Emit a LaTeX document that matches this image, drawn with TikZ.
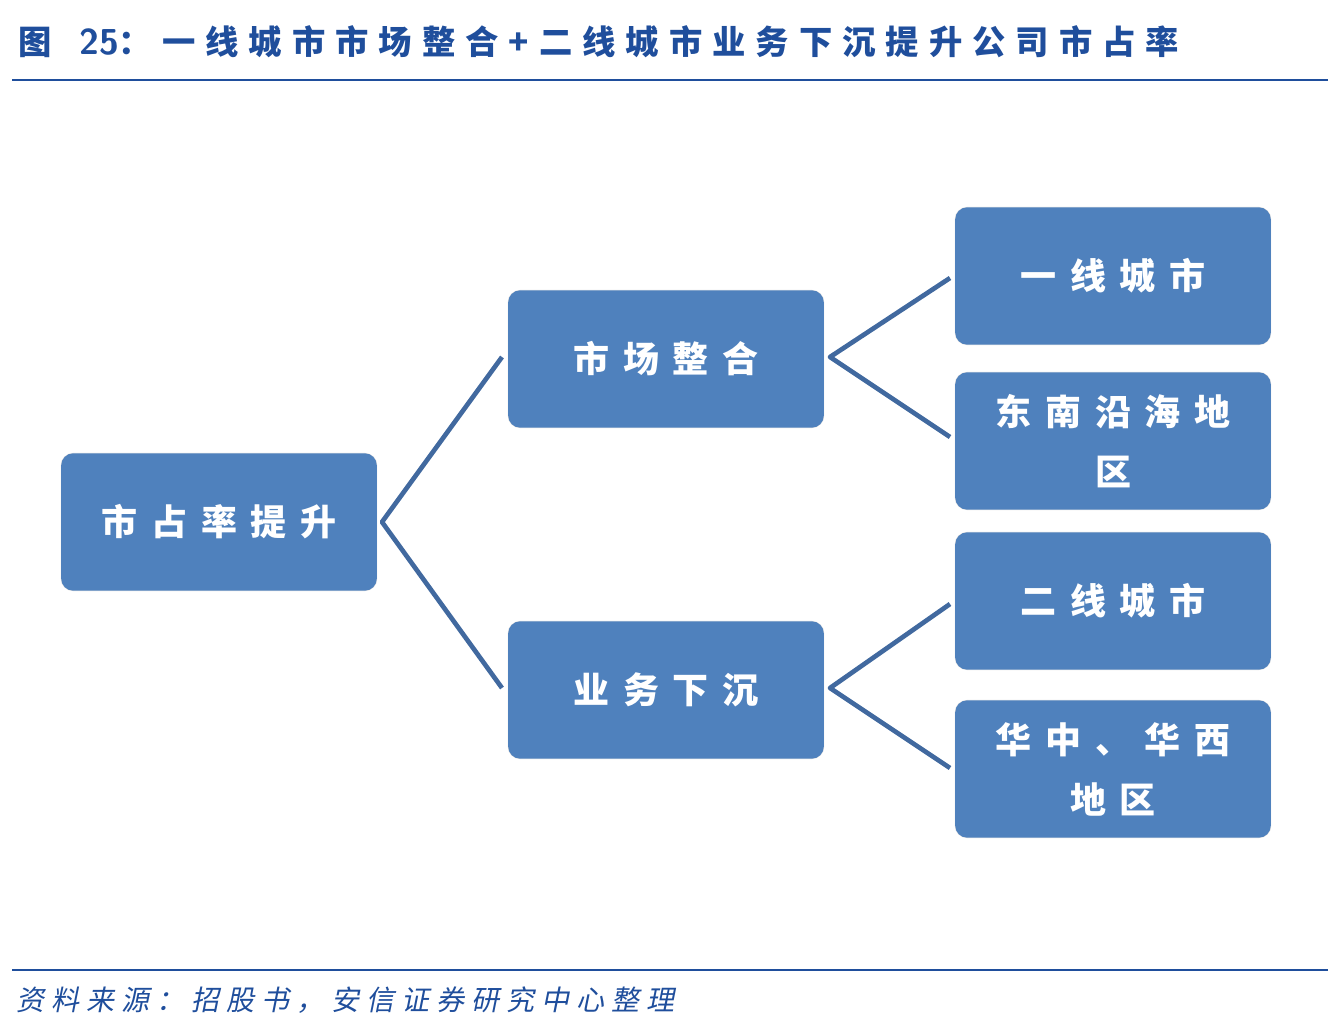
\documentclass[tikz,border=0pt]{standalone}
\usepackage{fontspec}
\setmainfont{Liberation Sans}
\newfontfamily\cjkt[LetterSpace=30]{Noto Sans CJK SC}
\newfontfamily\cjkb[LetterSpace=38]{Noto Sans CJK SC}
\newfontfamily\cjkf[LetterSpace=25]{Noto Sans CJK SC}
\definecolor{boxblue}{HTML}{4F81BD}
\definecolor{lineblue}{HTML}{41699F}
\definecolor{titleblue}{HTML}{1F4E9C}
\begin{document}
\begin{tikzpicture}[x=0.75pt,y=-0.75pt,
  bx/.style={fill=boxblue,rounded corners=9pt,minimum width=234pt,minimum height=103pt,
    text width=230pt,align=center,text=white,font=\cjkb\fontsize{27}{45}\selectfont\bfseries,
    preaction={draw=black!15,line width=0.6pt,rounded corners=11pt}},
  conn/.style={draw=lineblue,line width=3.5pt}]
\useasboundingbox (0,0) rectangle (1340,1022);
\node[anchor=west,inner sep=0pt,text=titleblue,font=\cjkt\fontsize{25}{28}\selectfont\bfseries] (title) at (18,42)
  {图 \textsf{\bfseries\fontsize{27}{28}\selectfont 25}：一线城市市场整合+二线城市业务下沉提升公司市占率};
\draw[titleblue,line width=2.2pt] (12,80) -- (1328,80);
\draw[titleblue,line width=1.5pt] (12,970) -- (1328,970);
\node[anchor=west,inner sep=0pt,text=titleblue,font=\cjkf\fontsize{21}{22}\selectfont,xslant=0.2] (src) at (18,1000)
  {资料来源：招股书，安信证券研究中心整理};
\node[bx] (root) at (219,522) {市占率提升};
\node[bx] (m1) at (666,359) {市场整合};
\node[bx] (m2) at (666,690) {业务下沉};
\node[bx] (r1) at (1113,276) {一线城市};
\node[bx] (r2) at (1113,441) {东南沿海地\\区};
\node[bx] (r3) at (1113,601) {二线城市};
\node[bx] (r4) at (1113,769) {华中、华西\\地区};
\coordinate (a1) at (502,357); \coordinate (a2) at (502,688);
\coordinate (b1) at (950,278); \coordinate (b2) at (950,437);
\coordinate (b3) at (950,604); \coordinate (b4) at (950,768);
\coordinate (rj) at (382,522); \coordinate (mj1) at (830,357); \coordinate (mj2) at (830,688);
\draw[conn,line join=round] (a1) -- (rj) -- (a2);
\draw[conn,line join=round] (b1) -- (mj1) -- (b2);
\draw[conn,line join=round] (b3) -- (mj2) -- (b4);
\end{tikzpicture}
\end{document}
